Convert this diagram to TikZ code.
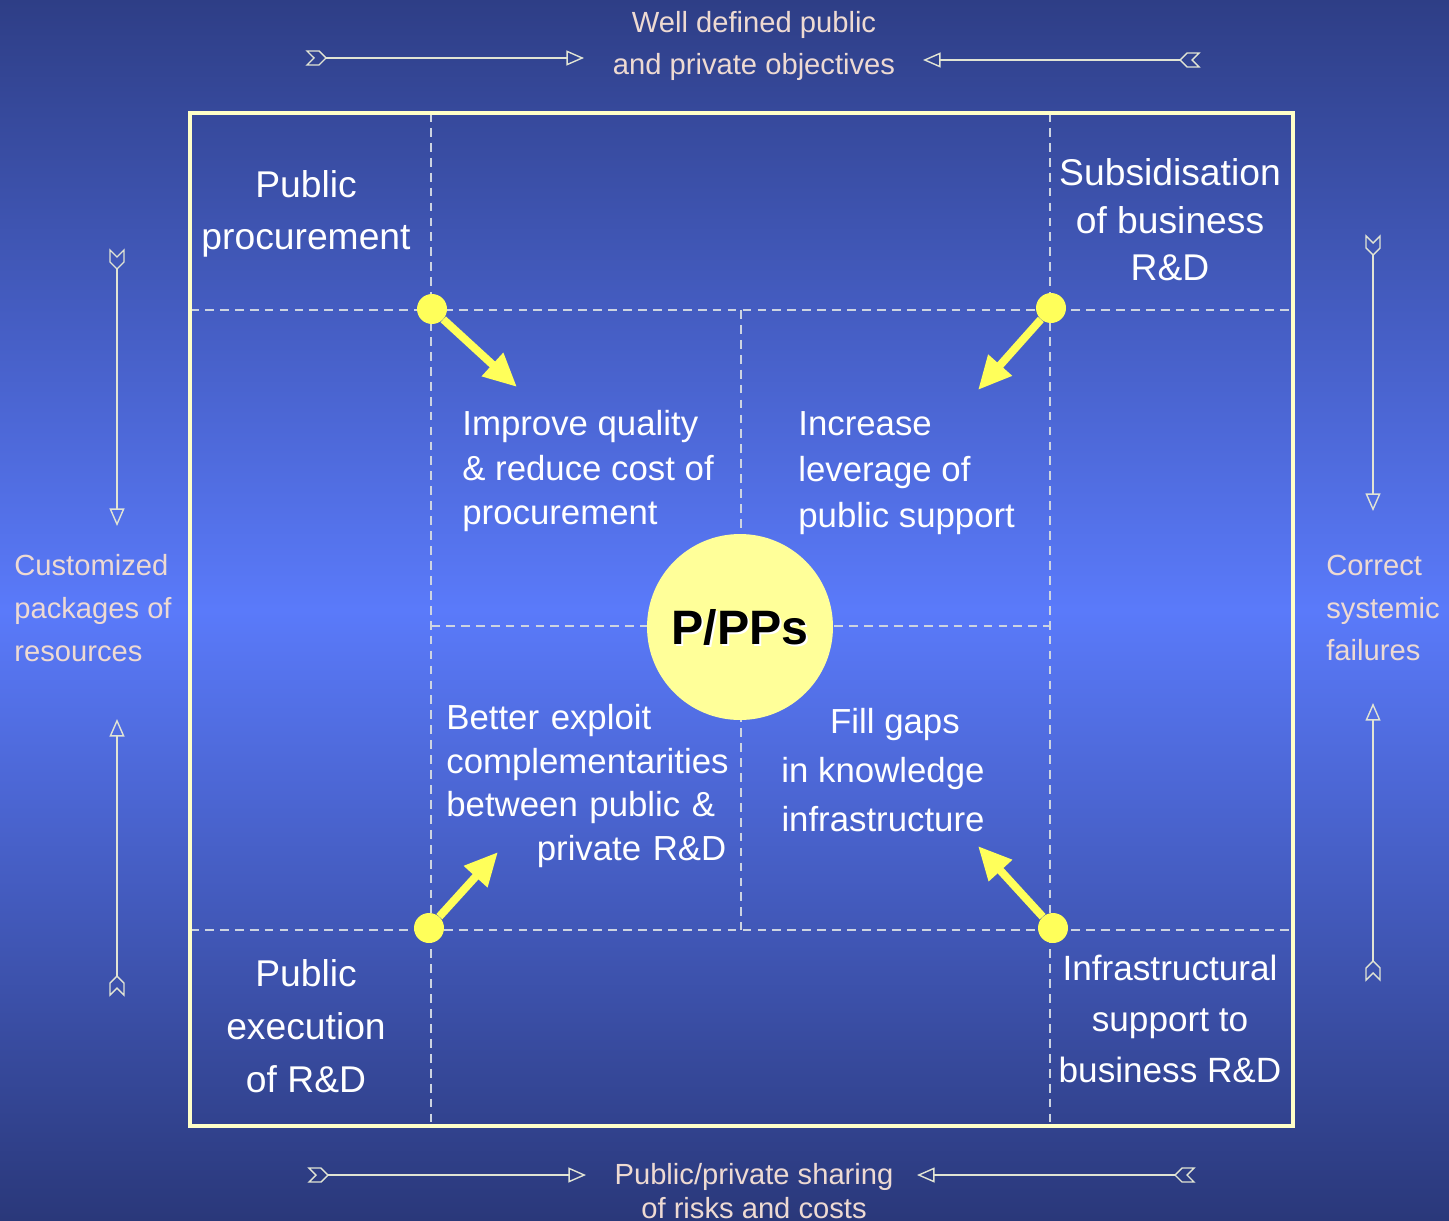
\documentclass[tikz,border=0pt]{standalone}
\usepackage{fontspec}
\setmainfont{Liberation Sans}
\usetikzlibrary{arrows.meta}

\definecolor{bgtop}{RGB}{46,62,134}
\definecolor{bgmid}{RGB}{90,122,250}
\definecolor{bgbot}{RGB}{42,56,122}
\definecolor{framecol}{RGB}{255,255,200}
\definecolor{gridcol}{RGB}{205,212,225}
\definecolor{outertext}{RGB}{238,218,210}
\definecolor{dotyellow}{RGB}{255,255,90}
\definecolor{hubyellow}{RGB}{255,255,153}
\definecolor{thincol}{RGB}{225,228,212}

% chevron tail of the thin arrows
\newcommand{\tailmark}[2]{\draw[thin arrow, shift={#1}, rotate=#2] (0,-7) -- (12,-7) -- (19,0) -- (12,7) -- (0,7) -- (7,0) -- cycle;}

\begin{document}
\begin{tikzpicture}[
  x=0.02cm, y=-0.02cm,
  outer/.style={text=outertext, inner sep=0, font=\fontsize{16.6}{24.4}\selectfont},
  cell/.style={text=white, inner sep=0, font=\fontsize{19.8}{28}\selectfont},
  corner/.style={text=white, inner sep=0, align=center},
  grid/.style={draw=gridcol, line width=0.8pt, dash pattern=on 5pt off 3.5pt},
  frame/.style={draw=framecol, line width=2.3pt},
  thin arrow/.style={draw=thincol, line width=0.8pt},
  open head/.style={-{Triangle[open, length=10pt, width=8.5pt]}},
  dot/.style={circle, fill=dotyellow, minimum size=0.6cm, inner sep=0},
  hub/.style={circle, fill=hubyellow, minimum size=3.72cm, inner sep=0},
  fat arrow/.style={draw=dotyellow, line width=4.5pt, -{Triangle[length=19pt, width=17pt]}}]

% Background
\useasboundingbox (0,0) rectangle (1449,1220);
\shade[top color=bgtop, bottom color=bgbot, middle color=bgmid] (0,0) rectangle (1449,1220);

% Grid
\draw[grid] (431,113) -- (431,1126);
\draw[grid] (1050,113) -- (1050,1126);
\draw[grid] (190,310) -- (1293,310);
\draw[grid] (190,930) -- (1293,930);
\draw[grid] (741,310) -- (741,930);
\draw[grid] (431,626) -- (1050,626);
\draw[frame] (190,113) rectangle (1293,1126);

% Outer labels
\node[outer, align=center] (goals) at (754,46) {Well defined public\\and private objectives};
\node[outer, align=center, font=\fontsize{16.6}{19.5}\selectfont] (risks) at (754,1191) {Public/private sharing\\of risks and costs};
\node[outer, align=left, anchor=west] (packages) at (14,608) {Customized\\packages of\\resources};
\node[outer, align=left, anchor=west] (failures) at (1326,608) {Correct\\systemic\\failures};

% Thin arrows
\coordinate (goalsA) at (326,58);   \coordinate (goalsB) at (584,58);
\coordinate (goalsC) at (1180,60);  \coordinate (goalsD) at (923,60);
\coordinate (risksA) at (328,1175); \coordinate (risksB) at (586,1175);
\coordinate (risksC) at (1175,1175);\coordinate (risksD) at (917,1175);
\coordinate (packA) at (117,269);   \coordinate (packB) at (117,526);
\coordinate (packC) at (117,976);   \coordinate (packD) at (117,719);
\coordinate (failA) at (1373,255);  \coordinate (failB) at (1373,511);
\coordinate (failC) at (1373,961);  \coordinate (failD) at (1373,703);
\draw[thin arrow, open head] (goalsA) -- (goalsB);
\draw[thin arrow, open head] (goalsC) -- (goalsD);
\draw[thin arrow, open head] (risksA) -- (risksB);
\draw[thin arrow, open head] (risksC) -- (risksD);
\draw[thin arrow, open head] (packA) -- (packB);
\draw[thin arrow, open head] (packC) -- (packD);
\draw[thin arrow, open head] (failA) -- (failB);
\draw[thin arrow, open head] (failC) -- (failD);
\tailmark{(307,58)}{0}
\tailmark{(1199,60)}{180}
\tailmark{(309,1175)}{0}
\tailmark{(1194,1175)}{180}
\tailmark{(117,250)}{-90}
\tailmark{(117,995)}{90}
\tailmark{(1373,236)}{-90}
\tailmark{(1373,980)}{90}

% Corner cells
\node[corner, font=\fontsize{21.2}{30}\selectfont] (procure) at (306,214) {Public\\procurement};
\node[corner, font=\fontsize{21.2}{27}\selectfont] (subsidy) at (1170,220) {Subsidisation\\of business\\R\&D};
\node[corner, font=\fontsize{21.2}{30}\selectfont] (execution) at (306,1026) {Public\\execution\\of R\&D};
\node[corner, font=\fontsize{20}{29}\selectfont] (infra) at (1170,1019) {Infrastructural\\support to\\business R\&D};

% Inner cells
\node[cell, align=left, anchor=west, font=\fontsize{19.8}{25.5}\selectfont] (quality) at (462,471) {Improve quality\\\& reduce cost of\\procurement};
\node[cell, align=left, anchor=west, font=\fontsize{19.8}{26}\selectfont] (leverage) at (798,473) {Increase\\leverage of\\public support};
\node[cell, align=left, anchor=west, text width=5.6cm, font=\fontsize{19.8}{25}\selectfont] (exploit) at (446,786) {Better exploit\\complementarities\\between public \&\\\hspace*{\fill}private R\&D};
\node[cell, align=center] (gaps) at (883,770) {\hspace*{0.48cm}Fill gaps\\in knowledge\\infrastructure};

% Hub
\node[hub] (hub) at (740,627) {};
\node[font=\bfseries\fontsize{27.5}{30}\selectfont, text=white] (hubshade) at ([shift={(2,2)}]hub.center) {P/PPs};
\node[font=\bfseries\fontsize{27.5}{30}\selectfont, text=black] (hubtext) at (hub.center) {P/PPs};

% Yellow arrows
\node[dot] (dotNW) at (432,309) {};
\node[dot] (dotNE) at (1051,308) {};
\node[dot] (dotSW) at (429,928) {};
\node[dot] (dotSE) at (1053,928) {};
\coordinate (tipNW) at (517,387);
\coordinate (tipNE) at (978,390);
\coordinate (tipSW) at (498,852);
\coordinate (tipSE) at (978,846);
\draw[fat arrow] (dotNW) -- (tipNW);
\draw[fat arrow] (dotNE) -- (tipNE);
\draw[fat arrow] (dotSW) -- (tipSW);
\draw[fat arrow] (dotSE) -- (tipSE);

\end{tikzpicture}
\end{document}
